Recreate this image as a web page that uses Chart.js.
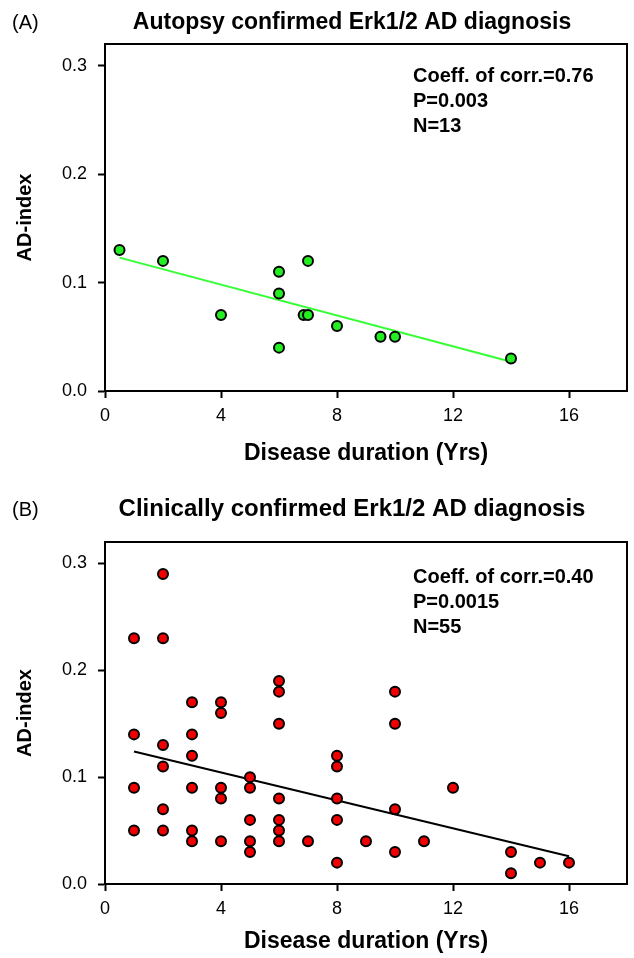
<!DOCTYPE html>
<html>
<head>
<meta charset="utf-8">
<script src="https://cdn.jsdelivr.net/npm/chart.js@4.4.1/dist/chart.umd.min.js"></script>
<style>
  html, body { margin: 0; padding: 0; background: #fff; }
  #wrap { position: relative; width: 634px; height: 958px; }
  canvas { position: absolute; left: 0; }
</style>
</head>
<body>
<div id="wrap">
  <canvas id="chartA" width="634" height="470" style="top:0px"></canvas>
  <canvas id="chartB" width="634" height="488" style="top:470px"></canvas>
</div>
<script>
// (A) autopsy confirmed
const autopsyYears = [0.5, 2, 4, 6, 6, 6, 7, 6.85, 7, 8, 9.5, 10, 14];
const autopsyIndex = [0.13, 0.12, 0.07, 0.11, 0.09, 0.04, 0.12, 0.07, 0.07, 0.06, 0.05, 0.05, 0.03];
const autopsyFitYears = [0.5, 14];
const autopsyFitIndex = [0.123, 0.027];

// (B) clinically confirmed
const clinicalYears = [
  1, 1, 1, 1,
  2, 2, 2, 2, 2, 2,
  3, 3, 3, 3, 3, 3,
  4, 4, 4, 4, 4,
  5, 5, 5, 5, 5,
  6, 6, 6, 6, 6, 6, 6,
  7,
  8, 8, 8, 8, 8,
  9,
  10, 10, 10, 10,
  11, 12, 14, 14, 15, 16
];
const clinicalIndex = [
  0.23, 0.14, 0.09, 0.05,
  0.29, 0.23, 0.13, 0.11, 0.07, 0.05,
  0.17, 0.14, 0.12, 0.09, 0.05, 0.04,
  0.17, 0.16, 0.09, 0.08, 0.04,
  0.10, 0.09, 0.06, 0.04, 0.03,
  0.19, 0.18, 0.15, 0.08, 0.06, 0.05, 0.04,
  0.04,
  0.12, 0.11, 0.08, 0.06, 0.02,
  0.04,
  0.18, 0.15, 0.07, 0.03,
  0.04, 0.09, 0.03, 0.01, 0.02, 0.02
];
const clinicalFitYears = [1, 16];
const clinicalFitIndex = [0.124, 0.026];

const xTicks = [0, 4, 8, 12, 16];
const yTicks = [0, 0.1, 0.2, 0.3];

const statsA = ['Coeff. of corr.=0.76', 'P=0.003', 'N=13'];
const statsB = ['Coeff. of corr.=0.40', 'P=0.0015', 'N=55'];

const FAMILY = '"Liberation Sans", Arial, Helvetica, sans-serif';
Chart.defaults.font.family = FAMILY;
Chart.defaults.color = '#000';

// box around the plot, panel tag, title and the stats block
const framePlugin = {
  id: 'frame',
  afterDraw(chart, args, opts) {
    const { ctx, chartArea: a } = chart;
    ctx.save();
    ctx.strokeStyle = '#000';
    ctx.lineWidth = 2;
    ctx.strokeRect(a.left, a.top, a.right - a.left, a.bottom - a.top);

    ctx.fillStyle = '#000';
    ctx.textBaseline = 'alphabetic';
    ctx.textAlign = 'left';
    ctx.font = '20px ' + FAMILY;
    ctx.fillText(opts.tag, 12, opts.titleY);

    ctx.textAlign = 'center';
    ctx.font = 'bold ' + opts.titleSize + 'px ' + FAMILY;
    ctx.fillText(opts.title, opts.titleX, opts.titleY);

    ctx.textAlign = 'left';
    ctx.font = 'bold 20px ' + FAMILY;
    opts.stats.forEach((s, i) => {
      ctx.fillText(s, 413, a.top + opts.statsTop + i * 25);
    });
    ctx.restore();
  }
};

function toPoints(xs, ys) {
  return xs.map((x, i) => ({ x: x, y: ys[i] }));
}

function makePanel(id, cfg) {
  return new Chart(document.getElementById(id), {
    type: 'scatter',
    data: {
      datasets: [
        {
          data: toPoints(cfg.xs, cfg.ys),
          backgroundColor: cfg.fill,
          pointBackgroundColor: cfg.fill,
          borderColor: '#000',
          pointBorderColor: '#000',
          borderWidth: 2,
          pointRadius: 5,
          order: 1
        },
        {
          data: toPoints(cfg.fitX, cfg.fitY),
          showLine: true,
          borderColor: cfg.fitColor,
          borderWidth: 2,
          pointRadius: 0,
          fill: false,
          order: 2
        }
      ]
    },
    options: {
      responsive: false,
      animation: false,
      devicePixelRatio: 1,
      layout: { padding: { top: cfg.padTop, right: 3, left: 0, bottom: 0 } },
      plugins: {
        legend: { display: false },
        tooltip: { enabled: false },
        frame: {
          tag: cfg.tag, title: cfg.title, titleX: 352, titleY: cfg.titleY,
          titleSize: cfg.titleSize, stats: cfg.stats, statsTop: cfg.statsTop
        }
      },
      scales: {
        x: {
          type: 'linear',
          min: 0, max: 18,
          afterBuildTicks: s => { s.ticks = xTicks.map(v => ({ value: v })); },
          afterFit: s => { s.height = cfg.xHeight; },
          grid: { drawOnChartArea: false, tickLength: 7, tickColor: '#000', tickWidth: 2 },
          border: { color: '#000', width: 2 },
          ticks: { color: '#000', font: { size: 18 }, padding: 7, maxRotation: 0 },
          title: {
            display: true, text: 'Disease duration (Yrs)', color: '#000',
            font: { size: 23, weight: 'bold' },
            padding: { top: 0, bottom: cfg.xTitlePad }
          }
        },
        y: {
          type: 'linear',
          min: 0, max: 0.32,
          afterBuildTicks: s => { s.ticks = yTicks.map(v => ({ value: v })); },
          afterFit: s => { s.width = 105; },
          grid: { drawOnChartArea: false, tickLength: 7, tickColor: '#000', tickWidth: 2 },
          border: { color: '#000', width: 2 },
          ticks: { color: '#000', font: { size: 18 }, padding: 11, callback: v => v.toFixed(1) },
          title: {
            display: true, text: 'AD-index', color: '#000',
            font: { size: 20, weight: 'bold' },
            padding: { top: 13, bottom: 0 }
          }
        }
      }
    },
    plugins: [framePlugin]
  });
}

makePanel('chartA', {
  xs: autopsyYears, ys: autopsyIndex,
  fitX: autopsyFitYears, fitY: autopsyFitIndex,
  fill: '#22ee22', fitColor: '#33ff33',
  tag: '(A)', title: 'Autopsy confirmed Erk1/2 AD diagnosis', titleY: 29, titleSize: 23,
  stats: statsA, statsTop: 38,
  padTop: 44, xHeight: 79, xTitlePad: 3
});

makePanel('chartB', {
  xs: clinicalYears, ys: clinicalIndex,
  fitX: clinicalFitYears, fitY: clinicalFitIndex,
  fill: '#f00000', fitColor: '#000',
  tag: '(B)', title: 'Clinically confirmed Erk1/2 AD diagnosis', titleY: 46, titleSize: 24,
  stats: statsB, statsTop: 41,
  padTop: 72, xHeight: 74, xTitlePad: 3
});
</script>
</body>
</html>
